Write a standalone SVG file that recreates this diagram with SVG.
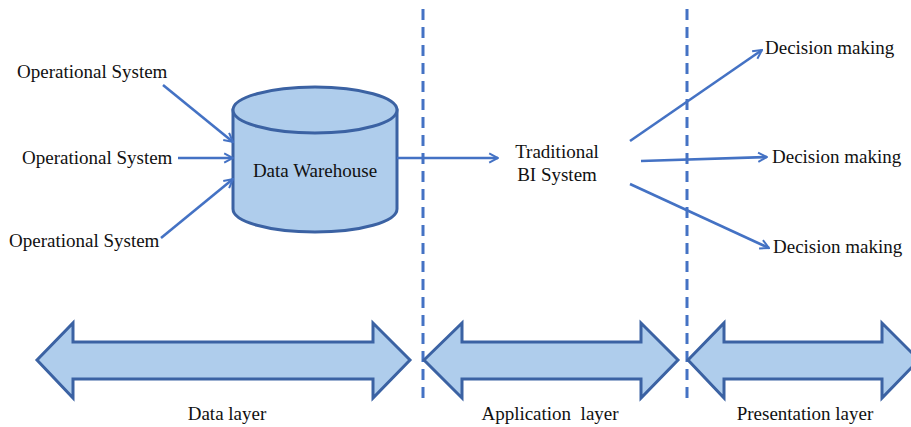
<svg xmlns="http://www.w3.org/2000/svg" width="911" height="427" viewBox="0 0 911 427">
  <defs>
    <style>
      .t { font-family: "Liberation Serif", "Times New Roman", serif; font-size: 19px; fill: #111; }
      .mid { text-anchor: middle; }
      .pre { white-space: pre; }
      .sep { stroke: #4472C4; stroke-width: 3; stroke-dasharray: 11 7; fill: none; }
      .conn { stroke: #4472C4; stroke-width: 2.6; fill: none; marker-end: url(#open); }
      .shape { fill: #AFCDEC; stroke: #3B62A3; stroke-width: 3; stroke-linejoin: miter; }
    </style>
    <marker id="open" viewBox="0 0 10 10" refX="9" refY="5" markerWidth="11" markerHeight="14" markerUnits="userSpaceOnUse" orient="auto">
      <path d="M1,0.8 L9,5 L1,9.2" fill="none" stroke="#4472C4" stroke-width="1.8"/>
    </marker>
  </defs>

  <rect width="911" height="427" fill="#fff"/>

  <!-- layer separators -->
  <g id="separators">
    <line class="sep" x1="423" y1="9" x2="423" y2="400"/>
    <line class="sep" x1="687" y1="9" x2="687" y2="400"/>
  </g>

  <!-- sources -->
  <g id="op1"><text class="t" x="17" y="78">Operational System</text></g>
  <g id="op2"><text class="t" x="22" y="164">Operational System</text></g>
  <g id="op3"><text class="t" x="9" y="247">Operational System</text></g>

  <!-- warehouse cylinder -->
  <g id="warehouse">
    <path class="shape" d="M233,110 L233,209 A82,23 0 0 0 397,209 L397,110 Z"/>
    <ellipse class="shape" cx="315" cy="110" rx="82" ry="23"/>
    <text class="t mid" x="315" y="177">Data Warehouse</text>
  </g>

  <g id="bi">
    <text class="t mid" x="557" y="158">Traditional</text>
    <text class="t mid" x="557" y="181">BI System</text>
  </g>

  <g id="dm1"><text class="t" x="765" y="54">Decision making</text></g>
  <g id="dm2"><text class="t" x="772" y="163">Decision making</text></g>
  <g id="dm3"><text class="t" x="773" y="253">Decision making</text></g>

  <!-- connectors -->
  <g id="connectors">
    <line class="conn" x1="163" y1="85" x2="233" y2="142"/>
    <line class="conn" x1="178" y1="158" x2="233" y2="158"/>
    <line class="conn" x1="161" y1="238" x2="233" y2="179"/>
    <line class="conn" x1="397" y1="158" x2="498" y2="158"/>
    <line class="conn" x1="630" y1="141" x2="762" y2="50"/>
    <line class="conn" x1="641" y1="161" x2="767" y2="157"/>
    <line class="conn" x1="630" y1="184" x2="769" y2="248"/>
  </g>

  <!-- layer spans -->
  <g id="data-layer">
    <path class="shape" d="M37,360 L73,323 L73,342 L373,342 L373,323 L410,360 L373,398 L373,379 L73,379 L73,398 Z"/>
    <text class="t mid" x="227" y="420">Data layer</text>
  </g>
  <g id="application-layer">
    <path class="shape" d="M424,360 L462,323 L462,342 L641,342 L641,323 L678,360 L641,398 L641,379 L462,379 L462,398 Z"/>
    <text class="t mid pre" x="550" y="420">Application  layer</text>
  </g>
  <g id="presentation-layer">
    <path class="shape" d="M688,360 L724,323 L724,342 L882,342 L882,323 L919,360 L882,398 L882,379 L724,379 L724,398 Z"/>
    <text class="t mid" x="805" y="420">Presentation layer</text>
  </g>
</svg>
